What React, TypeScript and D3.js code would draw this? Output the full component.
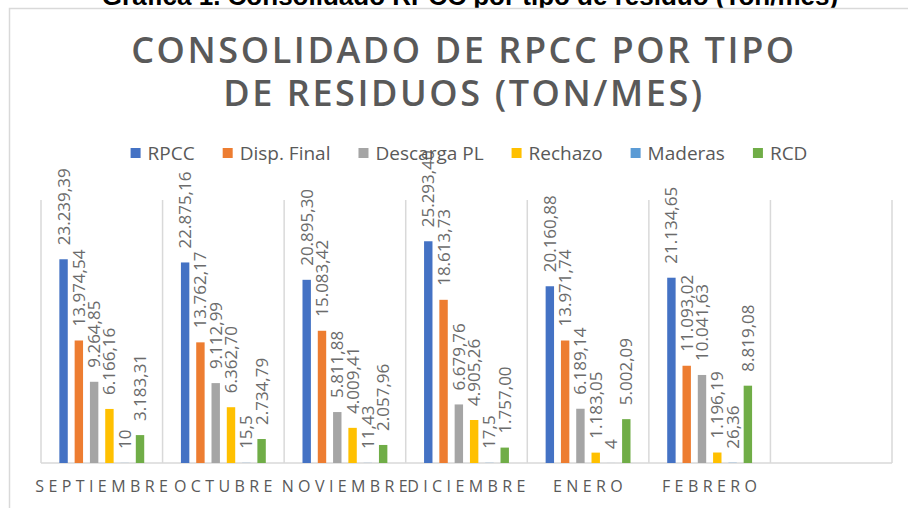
import React from "react";
import * as d3 from "d3";

const categories = ["SEPTIEMBRE", "OCTUBRE", "NOVIEMBRE", "DICIEMBRE", "ENERO", "FEBRERO", ""];
const seriesNames = ["RPCC", "Disp. Final", "Descarga PL", "Rechazo", "Maderas", "RCD"];
const seriesColors = ["#4472C4", "#ED7D31", "#A5A5A5", "#FFC000", "#5B9BD5", "#70AD47"];

const rpcc = [23239.39, 22875.16, 20895.3, 25293.4, 20160.88, 21134.65];
const dispFinal = [13974.54, 13762.17, 15083.42, 18613.73, 13971.74, 11093.02];
const descargaPL = [9264.85, 9112.99, 5811.88, 6679.76, 6189.14, 10041.63];
const rechazo = [6166.16, 6362.7, 4009.41, 4905.26, 1183.05, 1196.19];
const maderas = [10, 15.5, 11.43, 17.5, 4, 26.36];
const rcd = [3183.31, 2734.79, 2057.96, 1757.0, 5002.09, 8819.08];

const seriesValues = [rpcc, dispFinal, descargaPL, rechazo, maderas, rcd];

const width = 908;
const height = 508;
const plot = { left: 41, right: 892, top: 200, bottom: 463 };
const labelFont = "'Open Sans', sans-serif";

const esLocale = d3.formatLocale({ decimal: ",", thousands: ".", grouping: [3], currency: ["", ""] });
const fmtBig = esLocale.format(",.2f");
const fmtLabel = (v: number) => (v >= 1000 ? fmtBig(v) : String(v).replace(".", ","));

let ctx: CanvasRenderingContext2D | null = null;
function measure(text: string, font: string) {
  if (!ctx) ctx = document.createElement("canvas").getContext("2d");
  ctx!.font = font;
  return ctx!.measureText(text).width;
}

const App = () => {
  const x0 = d3
    .scaleBand<number>()
    .domain(categories.map((_, i) => i))
    .range([plot.left, plot.right])
    .padding(0);

  const x1 = d3
    .scaleBand<number>()
    .domain(seriesNames.map((_, i) => i))
    .range([0, x0.bandwidth()])
    .paddingInner(0.45)
    .paddingOuter(1.2);

  const y = d3.scaleLinear().domain([0, 30000]).range([plot.bottom, plot.top]);

  // legend layout, centered
  const legendFontSize = 19;
  const sq = 10;
  const sqGap = 7;
  const itemGap = 28;
  const widths = seriesNames.map((s) => measure(s, `${legendFontSize}px 'Open Sans'`));
  const total = d3.sum(widths) + seriesNames.length * (sq + sqGap) + itemGap * (seriesNames.length - 1);
  let lx = 469 - total / 2;
  const legendItems = seriesNames.map((s, i) => {
    const item = { name: s, color: seriesColors[i], x: lx };
    lx += sq + sqGap + widths[i] + itemGap;
    return item;
  });

  const gridXs = categories.map((_, i) => x0(i)!).concat([plot.right]);

  return (
    <svg
      width={width}
      height={height}
      style={{ position: "absolute", left: 0, top: 0, background: "#fff" }}
      fontFamily={labelFont}
    >
      <rect x={0} y={0} width={width} height={height} fill="#fff" />
      <text
        x={470}
        y={5}
        textAnchor="middle"
        fontFamily="'Liberation Sans', Arial, sans-serif"
        fontWeight="bold"
        fontSize={26}
        fill="#000"
      >
        Gráfica 1. Consolidado RPCC por tipo de residuo (Ton/mes)
      </text>
      <rect x={9.5} y={8.5} width={width + 20} height={height + 20} fill="#fff" stroke="#d9d9d9" strokeWidth={1.5} />

      <g fill="#595959" fontWeight={600} fontSize={36} textAnchor="middle" letterSpacing={2.6} style={{ whiteSpace: "pre" }}>
        <text x={464} y={63}>CONSOLIDADO  DE RPCC  POR TIPO</text>
        <text x={464} y={106}>DE RESIDUOS (TON/MES)</text>
      </g>

      <g>
        {gridXs.map((gx, i) => (
          <line key={i} x1={gx} x2={gx} y1={plot.top} y2={plot.bottom} stroke="#d9d9d9" strokeWidth={1.5} />
        ))}
        <line x1={plot.left} x2={plot.right} y1={plot.bottom} y2={plot.bottom} stroke="#d9d9d9" strokeWidth={1.5} />
      </g>

      <g>
        {categories.map((c, ci) =>
          ci < rpcc.length
            ? seriesValues.map((vals, si) => {
                const v = vals[ci];
                const bx = x0(ci)! + x1(si)!;
                return (
                  <rect
                    key={`${ci}-${si}`}
                    x={bx}
                    y={y(v)}
                    width={x1.bandwidth()}
                    height={plot.bottom - y(v)}
                    fill={seriesColors[si]}
                  />
                );
              })
            : null
        )}
      </g>

      <g fill="#6b6b6b" fontSize={17}>
        {categories.map((c, ci) =>
          ci < rpcc.length
            ? seriesValues.map((vals, si) => {
                const v = vals[ci];
                const cx = x0(ci)! + x1(si)! + x1.bandwidth() / 2;
                return (
                  <text
                    key={`${ci}-${si}`}
                    transform={`translate(${cx},${y(v) - 14}) rotate(-90)`}
                    dy="0.35em"
                  >
                    {fmtLabel(v)}
                  </text>
                );
              })
            : null
        )}
      </g>

      <g fontSize={legendFontSize} fill="#595959">
        {legendItems.map((d) => (
          <g key={d.name}>
            <rect x={d.x} y={148} width={sq} height={sq} fill={d.color} />
            <text x={d.x + sq + sqGap} y={160}>
              {d.name}
            </text>
          </g>
        ))}
      </g>

      <g fill="#595959" fontSize={16} textAnchor="middle" letterSpacing={4.4}>
        {categories.map((c, i) => (
          <text key={i} x={x0(i)! + x0.bandwidth() / 2 + 2} y={492}>
            {c}
          </text>
        ))}
      </g>
    </svg>
  );
};

export default App;
